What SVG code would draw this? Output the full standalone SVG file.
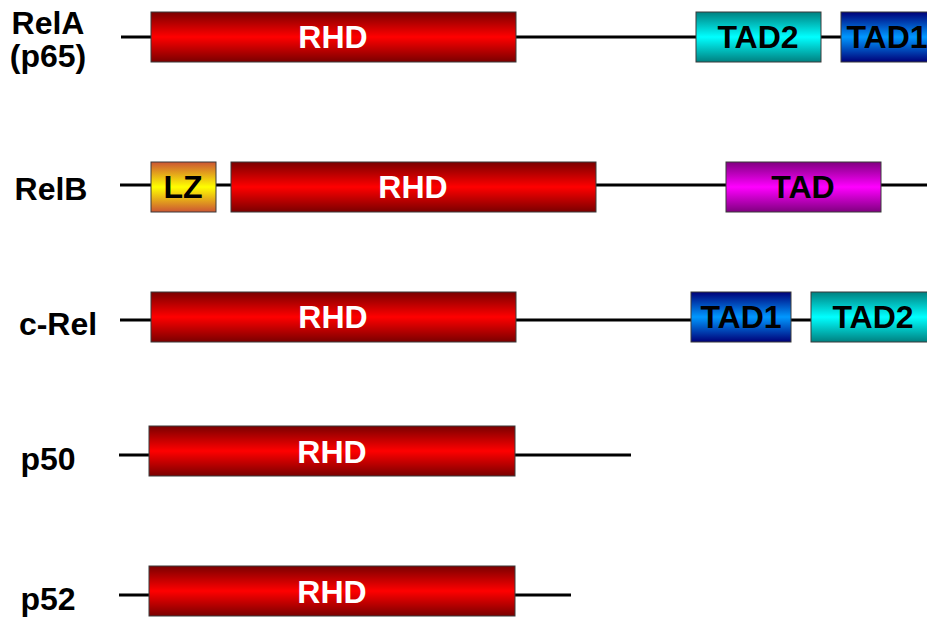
<svg xmlns="http://www.w3.org/2000/svg" width="927" height="619" viewBox="0 0 927 619">
  <defs>
    <linearGradient id="gRed" x1="0" y1="0" x2="0" y2="1">
      <stop offset="0" stop-color="#7a0000"/>
      <stop offset="0.5" stop-color="#ff0000"/>
      <stop offset="1" stop-color="#7a0000"/>
    </linearGradient>
    <linearGradient id="gCyan" x1="0" y1="0" x2="0" y2="1">
      <stop offset="0" stop-color="#008080"/>
      <stop offset="0.5" stop-color="#00ffff"/>
      <stop offset="1" stop-color="#008080"/>
    </linearGradient>
    <linearGradient id="gBlue" x1="0" y1="0" x2="0" y2="1">
      <stop offset="0" stop-color="#000078"/>
      <stop offset="0.5" stop-color="#0098ff"/>
      <stop offset="1" stop-color="#000078"/>
    </linearGradient>
    <linearGradient id="gMagenta" x1="0" y1="0" x2="0" y2="1">
      <stop offset="0" stop-color="#800080"/>
      <stop offset="0.5" stop-color="#ff00ff"/>
      <stop offset="1" stop-color="#800080"/>
    </linearGradient>
    <linearGradient id="gLZ" x1="0" y1="0" x2="0" y2="1">
      <stop offset="0" stop-color="#cc5533"/>
      <stop offset="0.5" stop-color="#ffff00"/>
      <stop offset="1" stop-color="#cc5533"/>
    </linearGradient>
  </defs>
  <style>
    .chain { stroke: #000; stroke-width: 3; fill: none; }
    .box { stroke: #3a3a3a; stroke-width: 1; }
    .red { fill: url(#gRed); }
    .cyan { fill: url(#gCyan); }
    .blue { fill: url(#gBlue); }
    .mag { fill: url(#gMagenta); }
    .lz { fill: url(#gLZ); }
    text { font-family: "Liberation Sans", Arial, sans-serif; font-weight: bold; font-size: 32px; text-anchor: middle; }
    .w { fill: #fff; }
    .k { fill: #000; }
  </style>

  <!-- backbone lines -->
  <g id="connectors">
    <line class="chain" x1="121" y1="37" x2="927" y2="37"/>
    <line class="chain" x1="120" y1="185" x2="927" y2="185"/>
    <line class="chain" x1="120" y1="320" x2="927" y2="320"/>
    <line class="chain" x1="119" y1="455" x2="631" y2="455"/>
    <line class="chain" x1="119" y1="595" x2="571" y2="595"/>
  </g>

  <!-- RelA (p65) -->
  <g id="rela">
    <text class="k" x="48" y="34">RelA</text>
    <text class="k" x="48" y="67">(p65)</text>
    <rect class="box red" x="151" y="12" width="365" height="50"/>
    <text class="w" x="333" y="48">RHD</text>
    <rect class="box cyan" x="696" y="12" width="125" height="50"/>
    <text class="k" x="758" y="48">TAD2</text>
    <rect class="box blue" x="841" y="12" width="92" height="50"/>
    <text class="k" x="887" y="48">TAD1</text>
  </g>

  <!-- RelB -->
  <g id="relb">
    <text class="k" x="51" y="200">RelB</text>
    <rect class="box lz" x="151" y="162" width="65" height="50"/>
    <text class="k" x="183" y="198">LZ</text>
    <rect class="box red" x="231" y="162" width="365" height="50"/>
    <text class="w" x="413" y="198">RHD</text>
    <rect class="box mag" x="726" y="162" width="155" height="50"/>
    <text class="k" x="803" y="198">TAD</text>
  </g>

  <!-- c-Rel -->
  <g id="crel">
    <text class="k" x="58" y="335">c-Rel</text>
    <rect class="box red" x="151" y="292" width="365" height="50"/>
    <text class="w" x="333" y="328">RHD</text>
    <rect class="box blue" x="691" y="292" width="100" height="50"/>
    <text class="k" x="741" y="328">TAD1</text>
    <rect class="box cyan" x="811" y="292" width="125" height="50"/>
    <text class="k" x="873" y="328">TAD2</text>
  </g>

  <!-- p50 -->
  <g id="p50">
    <text class="k" x="48" y="470">p50</text>
    <rect class="box red" x="149" y="426" width="366" height="50"/>
    <text class="w" x="332" y="463">RHD</text>
  </g>

  <!-- p52 -->
  <g id="p52">
    <text class="k" x="48" y="610">p52</text>
    <rect class="box red" x="149" y="566" width="366" height="50"/>
    <text class="w" x="332" y="603">RHD</text>
  </g>
</svg>
